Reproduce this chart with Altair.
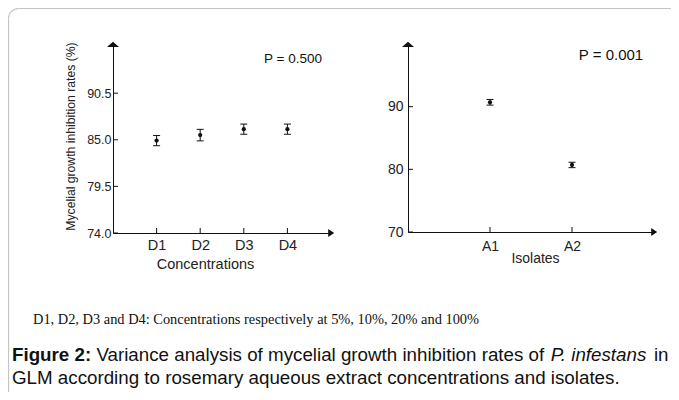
import json
import altair as alt
import pandas as pd

# ---------------- data ----------------
conc = ["D1", "D2", "D3", "D4"]
conc_mean = [84.9, 85.55, 86.25, 86.25]
conc_err = [0.6, 0.68, 0.6, 0.6]
conc_ticks = [74.0, 79.5, 85.0, 90.5]
conc_domain = [74.0, 96.3]

isolates = ["A1", "A2"]
iso_mean = [90.7, 80.7]
iso_err = [0.45, 0.43]
iso_ticks = [70, 80, 90]
iso_domain = [70, 100]

p_conc = "P = 0.500"
p_iso = "P = 0.001"
y_title = "Mycelial growth inhibition rates (%)"
x_title_conc = "Concentrations"
x_title_iso = "Isolates"
footnote = "D1, D2, D3 and D4: Concentrations respectively at 5%, 10%, 20% and 100%"
cap1_bold = "Figure 2:"
cap1_a = "Variance analysis of mycelial growth inhibition rates of"
cap1_it = "P. infestans"
cap1_b = "in"
cap2 = "GLM according to rosemary aqueous extract concentrations and isolates."

SANS = "Liberation Sans"
SERIF = "Liberation Serif"
INK = "#111111"
FRAME = "#c4c4c4"

# Helvetica/Arial advance widths (1/1000 em) for placing the mixed-style caption
W = {" ": 278, "a": 556, "b": 556, "c": 500, "d": 556, "e": 556, "f": 278, "g": 556,
     "h": 556, "i": 222, "l": 222, "m": 833, "n": 556, "o": 556, "r": 333, "s": 500,
     "t": 278, "u": 556, "w": 722, "y": 500, "P": 667, ".": 278, "V": 667}
WB = {"F": 611, "i": 278, "g": 611, "u": 611, "r": 389, "e": 556, " ": 278, "2": 556, ":": 333}


def tw(s, table, size):
    return sum(table.get(ch, 556) for ch in s) * size / 1000.0


# ---------------- geometry ----------------
W1, H1 = 218, 189
W2, H2 = 246, 188
CAP_SIZE = 18.75

df1 = pd.DataFrame({"lab": conc, "mean": conc_mean, "err": conc_err})
df1["pos"] = range(1, len(conc) + 1)
df1["lo"] = df1["mean"] - df1["err"]
df1["hi"] = df1["mean"] + df1["err"]

df2 = pd.DataFrame({"lab": isolates, "mean": iso_mean, "err": iso_err})
df2["pos"] = range(1, len(isolates) + 1)
df2["lo"] = df2["mean"] - df2["err"]
df2["hi"] = df2["mean"] + df2["err"]

one = pd.DataFrame({"k": [0]})

TRI_UP = "M-1,0.4L0,-0.45L1,0.4Z"
TRI_RIGHT = "M-0.7,-1L0.8,0L-0.7,1Z"


def panel(df, labels, ticks, ydom, xmax, w, h, ylab_fmt, ylab_size, ylab_pad,
          xlab_size, xlab_pad, xtitle, xtitle_x, xtitle_y, ytitle=None,
          p_text="", p_x=0, p_y=0, p_size=14, extras=()):
    sx = alt.Scale(domain=[0, xmax], nice=False, zero=False)
    sy = alt.Scale(domain=ydom, nice=False, zero=False)
    label_expr = json.dumps(labels) + "[datum.value - 1]"
    yaxis_kw = dict(values=ticks, format=ylab_fmt, labelFontSize=ylab_size,
                    labelPadding=ylab_pad, ticks=False, grid=False)
    if ytitle:
        yaxis_kw.update(title=ytitle, titleAngle=270, titleX=-39, titleY=92,
                        titleAlign="center", titleBaseline="alphabetic",
                        titleFontSize=12.2)
    else:
        yaxis_kw.update(title=None)
    base_x = alt.X("pos:Q", scale=sx,
                   axis=alt.Axis(values=list(range(1, len(labels) + 1)),
                                 labelExpr=label_expr, labelFontSize=xlab_size,
                                 labelPadding=xlab_pad, ticks=False, grid=False,
                                 title=xtitle, titleX=xtitle_x, titleY=xtitle_y,
                                 titleBaseline="alphabetic", titleAlign="center",
                                 titleFontSize=xlab_size))
    base_y = alt.Y("mean:Q", scale=sy, axis=alt.Axis(**yaxis_kw))

    pts = alt.Chart(df).mark_point(filled=True, shape="circle", size=18,
                                   color=INK, opacity=1).encode(x=base_x, y=base_y)
    bars = alt.Chart(df).mark_rule(color=INK, strokeWidth=1).encode(
        x=alt.X("pos:Q", scale=sx), y=alt.Y("lo:Q", scale=sy), y2="hi:Q")
    cap_lo = alt.Chart(df).mark_rule(color=INK, strokeWidth=1, xOffset=-3.5,
                                     x2Offset=3.5).encode(
        x=alt.X("pos:Q", scale=sx), x2="pos:Q", y=alt.Y("lo:Q", scale=sy))
    cap_hi = alt.Chart(df).mark_rule(color=INK, strokeWidth=1, xOffset=-3.5,
                                     x2Offset=3.5).encode(
        x=alt.X("pos:Q", scale=sx), x2="pos:Q", y=alt.Y("hi:Q", scale=sy))

    ytk = pd.DataFrame({"v": ticks})
    yticks = alt.Chart(ytk).mark_rule(color=INK).encode(
        y=alt.Y("v:Q", scale=sy), x=alt.value(0), x2=alt.value(5))
    xtk = pd.DataFrame({"p": list(range(1, len(labels) + 1))})
    xticks = alt.Chart(xtk).mark_rule(color=INK).encode(
        x=alt.X("p:Q", scale=sx), y=alt.value(h), y2=alt.value(h - 5))

    corner = pd.DataFrame({"ax": [0], "ay": [ydom[1]], "bx": [xmax], "by": [ydom[0]]})
    up = alt.Chart(corner).mark_point(shape=TRI_UP, filled=True, size=144,
                                      color=INK, opacity=1, yOffset=0.5).encode(
        x=alt.X("ax:Q", scale=sx), y=alt.Y("ay:Q", scale=sy))
    right = alt.Chart(corner).mark_point(shape=TRI_RIGHT, filled=True, size=64,
                                         color=INK, opacity=1).encode(
        x=alt.X("bx:Q", scale=sx), y=alt.Y("by:Q", scale=sy))

    ptxt = alt.Chart(one).mark_text(font=SANS, fontSize=p_size, color=INK,
                                    align="center", baseline="middle").encode(
        x=alt.value(p_x), y=alt.value(p_y), text=alt.value(p_text))

    layers = list(extras) + [bars, cap_lo, cap_hi, pts, yticks, xticks, up, right, ptxt]
    return alt.layer(*layers).properties(width=w, height=h)


# ---- decorations living in the left panel's coordinates (origin = its plot area) ----
FX, FY, FR = -104.5, -35.5, 10
frame_top = alt.Chart(one).mark_rule(color=FRAME, strokeWidth=1.2).encode(
    x=alt.value(FX + FR), x2=alt.value(700), y=alt.value(FY))
frame_left = alt.Chart(one).mark_rule(color=FRAME, strokeWidth=1.2).encode(
    x=alt.value(FX), y=alt.value(FY + FR), y2=alt.value(500))
frame_corner = alt.Chart(one).mark_arc(stroke=FRAME, strokeWidth=1.2, fillOpacity=0,
                                       innerRadius=FR, outerRadius=FR).encode(
    x=alt.value(FX + FR), y=alt.value(FY + FR),
    theta=alt.value(4.712389), theta2=alt.value(6.283185))

foot = alt.Chart(one).mark_text(font=SERIF, fontSize=14.4, color=INK, align="left",
                                baseline="alphabetic").encode(
    x=alt.value(-80), y=alt.value(280), text=alt.value(footnote))

cx0 = -101
cy1, cy2 = 317, 340
x_a = cx0 + tw(cap1_bold, WB, CAP_SIZE) + tw(" ", W, CAP_SIZE)
x_it = x_a + tw(cap1_a + " ", W, CAP_SIZE)
x_b = x_it + tw(cap1_it + " ", W, CAP_SIZE)


def cap_text(txt, x, y, weight="normal", style="normal"):
    return alt.Chart(one).mark_text(font=SANS, fontSize=CAP_SIZE, color=INK,
                                    align="left", baseline="alphabetic",
                                    fontWeight=weight, fontStyle=style).encode(
        x=alt.value(x), y=alt.value(y), text=alt.value(txt))


caption = [
    cap_text(cap1_bold, cx0, cy1, weight="bold"),
    cap_text(cap1_a, x_a, cy1),
    cap_text(cap1_it, x_it, cy1, style="italic"),
    cap_text(cap1_b, x_b, cy1),
    cap_text(cap2, cx0, cy2),
]

left = panel(df1, conc, conc_ticks, conc_domain, 5, W1, H1, ".1f", 12.5, 2,
             14.5, 5, x_title_conc, 92, 35, ytitle=y_title,
             p_text=p_conc, p_x=180, p_y=15, p_size=13.5,
             extras=[frame_top, frame_left, frame_corner, foot] + caption)

right = panel(df2, isolates, iso_ticks, iso_domain, 3, W2, H2, "d", 14, 5,
              14, 7, x_title_iso, 127, 30,
              p_text=p_iso, p_x=203, p_y=11, p_size=15)

chart = alt.hconcat(left, right, spacing=77, bounds="flush").properties(
    autosize=alt.AutoSizeParams(type="none"),
    padding={"left": 105, "top": 36, "right": 558, "bottom": 348},
    background="white",
).configure_view(strokeWidth=0).configure_axis(
    domainColor=INK, domainWidth=1, labelColor="#222222", titleColor="#222222",
    labelFont=SANS, titleFont=SANS, titleFontWeight="normal",
)

chart.save("out.html", embed_options={"renderer": "svg", "actions": False})
